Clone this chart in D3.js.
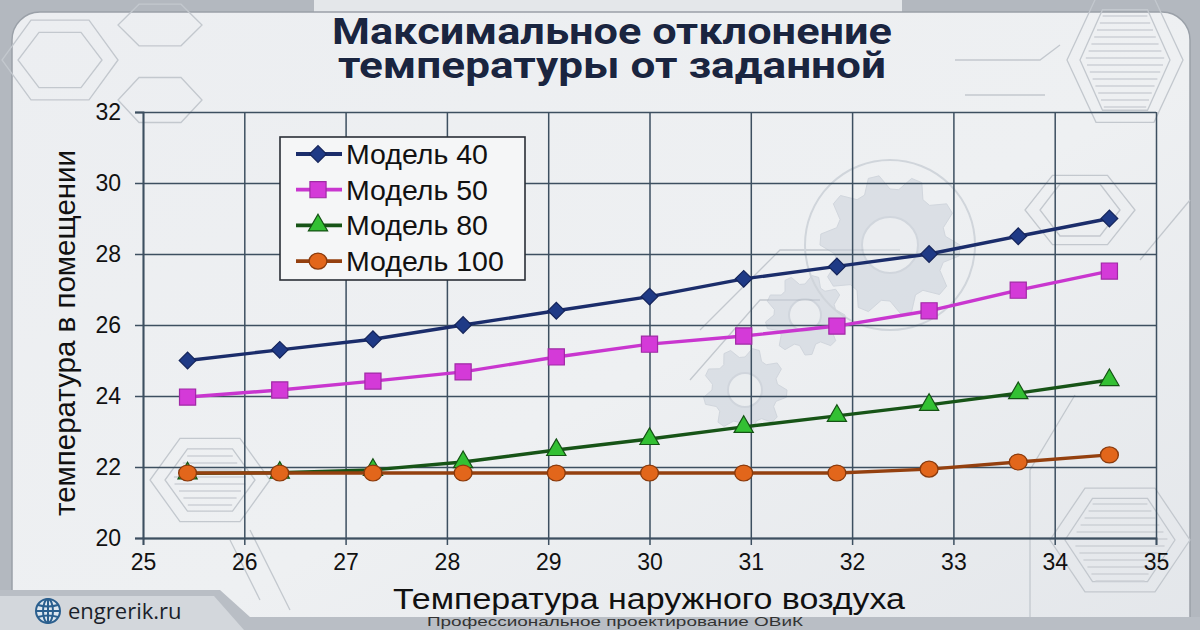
<!DOCTYPE html>
<html><head><meta charset="utf-8">
<script src="https://cdn.jsdelivr.net/npm/d3@7"></script>
<style>html,body{margin:0;padding:0;background:#b7bcc3;}svg{display:block;}</style>
</head><body>
<svg id="c" width="1200" height="630"></svg>
<script>
// ---------- data ----------
const xValues = [25.44, 26.35, 27.27, 28.16, 29.08, 30.0, 30.93, 31.85, 32.76, 33.64, 34.54];
const model40  = [25.0, 25.3, 25.6, 26.0, 26.4, 26.8, 27.3, 27.65, 28.0, 28.5, 29.0];
const model50  = [23.97, 24.17, 24.42, 24.68, 25.1, 25.46, 25.69, 25.97, 26.4, 26.98, 27.52];
const model80  = [21.82, 21.84, 21.92, 22.14, 22.48, 22.79, 23.13, 23.44, 23.75, 24.08, 24.45];
const model100 = [21.83, 21.83, 21.83, 21.83, 21.83, 21.83, 21.83, 21.83, 21.94, 22.14, 22.34];
const seriesNames = ["Модель 40", "Модель 50", "Модель 80", "Модель 100"];
const xTicks = [25, 26, 27, 28, 29, 30, 31, 32, 33, 34, 35];
const yTicks = [20, 22, 24, 26, 28, 30, 32];
const titleLines = ["Максимальное отклонение", "температуры от заданной"];
const xTitle = "Температура наружного воздуха";
const yTitle = "температура в помещении";
const siteText = "engrerik.ru";
const footerText = "Профессиональное проектирование ОВиК";

// ---------- styles ----------
const styles = [
  {line:"#1b2d6b", fill:"#1f3a86", stroke:"#14245a", shape:d3.symbolSquare, size:140, rot:45, sx:1},
  {line:"#c936cf", fill:"#d43ad8", stroke:"#a02aa5", shape:d3.symbolSquare, size:260, rot:0, sx:1},
  {line:"#175417", fill:"#33c033", stroke:"#145214", shape:d3.symbolTriangle, size:160, rot:0, sx:1},
  {line:"#94400f", fill:"#e2661b", stroke:"#8a3a0c", shape:d3.symbolCircle, size:200, rot:0, sx:1.12}
];
const seriesVals = [model40, model50, model80, model100];

const svg = d3.select("#c");
const W = 1200, H = 630;

// ---------- background frame ----------
const defs = svg.append("defs");
const g1 = defs.append("linearGradient").attr("id","bg").attr("x1",0).attr("y1",0).attr("x2",1).attr("y2",1);
g1.append("stop").attr("offset","0%").attr("stop-color","#eceef1");
g1.append("stop").attr("offset","55%").attr("stop-color","#eef0f2");
g1.append("stop").attr("offset","100%").attr("stop-color","#e3e6ea");

svg.append("rect").attr("width",W).attr("height",H).attr("fill","#b3b8bf");
svg.append("rect").attr("x",314).attr("y",0).attr("width",588).attr("height",20).attr("fill","#e4e7ea");
svg.append("rect").attr("x",12).attr("y",12).attr("width",1178).attr("height",640).attr("rx",28)
  .attr("fill","url(#bg)").attr("stroke","#9aa0a8").attr("stroke-width",1.5);

// decorative hexagons / circuit lines
const deco = svg.append("g").attr("fill","none").attr("stroke","#c3c8ce").attr("stroke-width",1.3);
function hexPath(cx, cy, r, ry){
  ry = ry || r;
  const p = d3.path();
  for(let i=0;i<6;i++){
    const a = Math.PI/3*i;
    const x = cx + r*Math.cos(a), y = cy + ry*Math.sin(a);
    if(i===0) p.moveTo(x,y); else p.lineTo(x,y);
  }
  p.closePath();
  return p.toString();
}
deco.append("path").attr("d",hexPath(60,60,42,32));
deco.append("path").attr("d",hexPath(60,60,58,46));
deco.append("path").attr("d",hexPath(160,25,42,24));
deco.append("path").attr("d",hexPath(160,100,42,26));
deco.append("path").attr("d",hexPath(1125,60,45,58));
deco.append("path").attr("d",hexPath(1125,60,58,72));
deco.append("path").attr("d",hexPath(210,480,60,48));
deco.append("path").attr("d",hexPath(210,480,45,36));
deco.append("path").attr("d",hexPath(1120,540,70,60));
deco.append("path").attr("d",hexPath(1120,540,55,48));
deco.append("path").attr("d",hexPath(1080,210,55,40));
deco.append("path").attr("d",hexPath(1080,210,40,30));
[[1125,60,40,50],[1120,540,48,42],[210,480,38,30]].forEach(([cx,cy,rx,ry])=>{
  for(let yy=cy-ry+6; yy<cy+ry; yy+=7){
    const t = 1-Math.abs(yy-cy)/ry;
    const half = rx*(0.5+0.5*t);
    deco.append("line").attr("x1",cx-half).attr("x2",cx+half).attr("y1",yy).attr("y2",yy).attr("stroke","#cdd1d6");
  }
});
deco.append("path").attr("d","M955,60 L1040,60 L1060,45");
deco.append("path").attr("d","M965,95 L1045,95");
deco.append("path").attr("d","M1075,395 L1030,470 L1030,620");
deco.append("path").attr("d","M1140,260 L1190,200");
deco.append("path").attr("d","M700,330 L780,250 L900,250");
deco.append("path").attr("d","M690,380 L760,300 L820,300");
deco.append("path").attr("d","M230,540 L260,600");
deco.append("path").attr("d","M250,530 L290,610");

function gearPath(cx, cy, rOut, rIn, teeth){
  const p = d3.path();
  const n = teeth*4;
  for(let i=0;i<=n;i++){
    const a = 2*Math.PI*i/n;
    const r = (Math.floor(i/2)%2===0) ? rOut : rIn;
    const x = cx + r*Math.cos(a), y = cy + r*Math.sin(a);
    if(i===0) p.moveTo(x,y); else p.lineTo(x,y);
  }
  p.closePath();
  return p.toString();
}
const gears = svg.append("g").attr("opacity",0.5);
[[890,245,70,56,10,28],[805,315,40,31,9,16],[745,390,42,33,9,17]].forEach(([cx,cy,ro,ri,t,h])=>{
  gears.append("path").attr("d",gearPath(cx,cy,ro,ri,t)).attr("fill","#c9d0da").attr("stroke","#b5bdc9");
  gears.append("circle").attr("cx",cx).attr("cy",cy).attr("r",h).attr("fill","#e9ecef").attr("stroke","#b5bdc9").attr("stroke-width",2);
});
svg.append("circle").attr("cx",890).attr("cy",245).attr("r",85).attr("fill","none").attr("stroke","#d0d5db").attr("stroke-width",2);

// ---------- scales ----------
const m = {left:143, right:1156, top:112, bottom:538};
const x = d3.scaleLinear().domain([25,35]).range([m.left, m.right]);
const y = d3.scaleLinear().domain([20,32]).range([m.bottom, m.top]);

const gridColor = "#3d4f60";
const grid = svg.append("g");
grid.append("g").attr("transform",`translate(0,${m.bottom})`)
  .call(d3.axisBottom(x).tickValues(xTicks).tickSize(-(m.bottom-m.top)).tickFormat(""))
  .call(g=>{g.select(".domain").remove(); g.selectAll("line").attr("stroke",gridColor).attr("stroke-width",1.5);});
grid.append("g").attr("transform",`translate(${m.left},0)`)
  .call(d3.axisLeft(y).tickValues(yTicks).tickSize(-(m.right-m.left)).tickFormat(""))
  .call(g=>{g.select(".domain").remove(); g.selectAll("line").attr("stroke",gridColor).attr("stroke-width",1.5);});

const fontAx = "'Liberation Sans', Arial, sans-serif";
const xa = svg.append("g").attr("transform",`translate(0,${m.bottom})`)
  .call(d3.axisBottom(x).tickValues(xTicks).tickSize(7).tickPadding(9).tickFormat(d3.format("d")));
const ya = svg.append("g").attr("transform",`translate(${m.left},0)`)
  .call(d3.axisLeft(y).tickValues(yTicks).tickSize(8).tickPadding(14).tickFormat(d3.format("d")));
[xa,ya].forEach(a=>{
  a.select(".domain").attr("stroke",gridColor).attr("stroke-width",1.8);
  a.selectAll(".tick line").attr("stroke",gridColor).attr("stroke-width",1.5);
  a.selectAll(".tick text").attr("fill","#111").style("font-family",fontAx).style("font-size","23px");
});

// ---------- series ----------
const line = d3.line().x((d,i)=>x(xValues[i])).y(d=>y(d));
seriesVals.forEach((vals,k)=>{
  const st = styles[k];
  svg.append("path").datum(vals).attr("d",line)
    .attr("fill","none").attr("stroke",st.line).attr("stroke-width",3.4).attr("stroke-linejoin","round");
  svg.append("g").selectAll("path").data(vals).join("path")
    .attr("d",d3.symbol().type(st.shape).size(st.size))
    .attr("transform",(d,i)=>`translate(${x(xValues[i])},${y(d)}) rotate(${st.rot}) scale(${st.sx},1)`)
    .attr("fill",st.fill).attr("stroke",st.stroke).attr("stroke-width",1.2);
});

// ---------- legend ----------
const lg = svg.append("g");
lg.append("rect").attr("x",280).attr("y",137).attr("width",245).attr("height",143)
  .attr("fill","#f5f6f7").attr("stroke","#2a2f36").attr("stroke-width",1.6);
seriesNames.forEach((name,k)=>{
  const st = styles[k];
  const cy = 154 + k*35.7;
  lg.append("line").attr("x1",296).attr("x2",342).attr("y1",cy).attr("y2",cy).attr("stroke",st.line).attr("stroke-width",3.8);
  lg.append("path").attr("d",d3.symbol().type(st.shape).size(st.size))
    .attr("transform",`translate(318,${cy}) rotate(${st.rot}) scale(${st.sx},1)`)
    .attr("fill",st.fill).attr("stroke",st.stroke).attr("stroke-width",1.2);
  lg.append("text").attr("x",346).attr("y",cy+10).text(name)
    .style("font-family",fontAx).style("font-size","28.5px").attr("fill","#111");
});

// ---------- titles ----------
const title = svg.append("text").attr("text-anchor","middle")
  .style("font-family","Roboto, 'Liberation Sans', sans-serif").style("font-weight","700").style("font-size","36px")
  .attr("fill","#1a2540").attr("stroke","#ffffff").attr("stroke-width",0.5).attr("paint-order","stroke");
titleLines.forEach((t,i)=>{
  title.append("tspan").attr("x",612).attr("y",44+i*34)
    .attr("textLength", i===0?560:548).attr("lengthAdjust","spacingAndGlyphs")
    .text(t);
});
svg.append("text").attr("x",649).attr("y",609).attr("text-anchor","middle")
  .attr("textLength",512).attr("lengthAdjust","spacingAndGlyphs")
  .style("font-family",fontAx).style("font-size","29px").attr("fill","#111").text(xTitle);
svg.append("text").attr("transform","translate(75,333) rotate(-90)").attr("text-anchor","middle")
  .attr("textLength",366).attr("lengthAdjust","spacingAndGlyphs")
  .style("font-family",fontAx).style("font-size","29px").attr("fill","#111").text(yTitle);

// ---------- footer ----------
svg.append("path").attr("d","M0,590 L220,590 L250,617 L1200,617 L1200,630 L0,630 Z").attr("fill","#b9bec5");
svg.append("path").attr("d","M0,596 L214,596 L244,630 L0,630 Z").attr("fill","#d3d7dc");
const globe = svg.append("g").attr("transform","translate(48,611)").attr("fill","none").attr("stroke","#2b5f8e").attr("stroke-width",2);
globe.append("circle").attr("r",12).attr("fill","#dfe8f0");
globe.append("ellipse").attr("rx",5).attr("ry",12);
globe.append("line").attr("x1",-12).attr("x2",12);
globe.append("line").attr("y1",-12).attr("y2",12);
globe.append("path").attr("d","M-10,-6 Q0,-3 10,-6 M-10,6 Q0,3 10,6");
svg.append("text").attr("x",68).attr("y",619).text(siteText)
  .style("font-family","'Open Sans', 'Noto Sans', sans-serif").style("font-size","22px").attr("fill","#1a1f2a");
svg.append("text").attr("x",615).attr("y",626).attr("text-anchor","middle")
  .attr("textLength",376).attr("lengthAdjust","spacingAndGlyphs")
  .style("font-family",fontAx).style("font-size","13px").attr("fill","#333").text(footerText);
</script>
</body></html>
